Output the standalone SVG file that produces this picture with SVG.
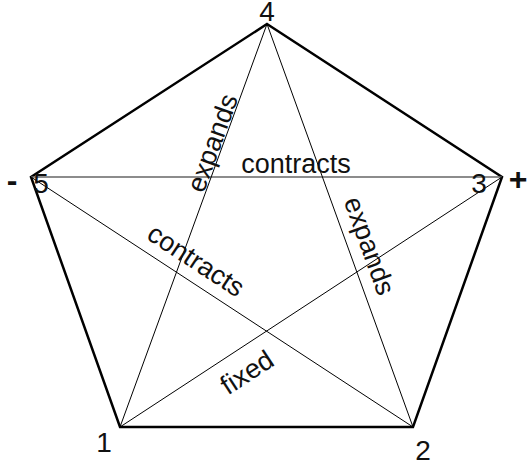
<svg xmlns="http://www.w3.org/2000/svg" width="527" height="468" viewBox="0 0 527 468">
<style>
.outer{fill:none;stroke:#000;stroke-width:2.5;stroke-linejoin:miter}
.diag{stroke:#000;stroke-width:1;fill:none}
.horiz{stroke:#666;stroke-width:1.6;fill:none}
.num{font-family:"Liberation Sans",Arial,sans-serif;font-size:28px;fill:#111;text-anchor:middle}
.sign{font-family:"Liberation Sans",Arial,sans-serif;font-size:32px;font-weight:bold;fill:#111;text-anchor:middle}
.lbl{font-family:"Liberation Sans",Arial,sans-serif;font-size:27px;fill:#111;text-anchor:middle}
</style>
<rect width="527" height="468" fill="#fff"/>
<g id="connectors">
<polygon class="outer" points="267,24 502,177 413,427 120,427 31,177"/>
<line class="horiz" x1="31" y1="177" x2="502" y2="177"/>
<line class="diag" x1="120" y1="427" x2="267" y2="24"/>
<line class="diag" x1="267" y1="24" x2="413" y2="427"/>
<line class="diag" x1="31" y1="177" x2="413" y2="427"/>
<line class="diag" x1="120" y1="427" x2="502" y2="177"/>
</g>
<g id="node-4"><text class="num" x="267" y="21">4</text></g>
<g id="node-5"><text class="num" x="41" y="193">5</text><text class="sign" x="12" y="191">-</text></g>
<g id="node-3"><text class="num" x="479" y="193">3</text><text class="sign" x="518" y="190">+</text></g>
<g id="node-1"><text class="num" x="104" y="452">1</text></g>
<g id="node-2"><text class="num" x="423" y="460">2</text></g>
<g id="labels">
<text class="lbl" x="296" y="173">contracts</text>
<text class="lbl" transform="translate(221,146) rotate(-70)">expands</text>
<text class="lbl" transform="translate(361,249) rotate(70)">expands</text>
<text class="lbl" transform="translate(191,268) rotate(33.2)">contracts</text>
<text class="lbl" transform="translate(252,380) rotate(-33.1)">fixed</text>
</g>
</svg>
